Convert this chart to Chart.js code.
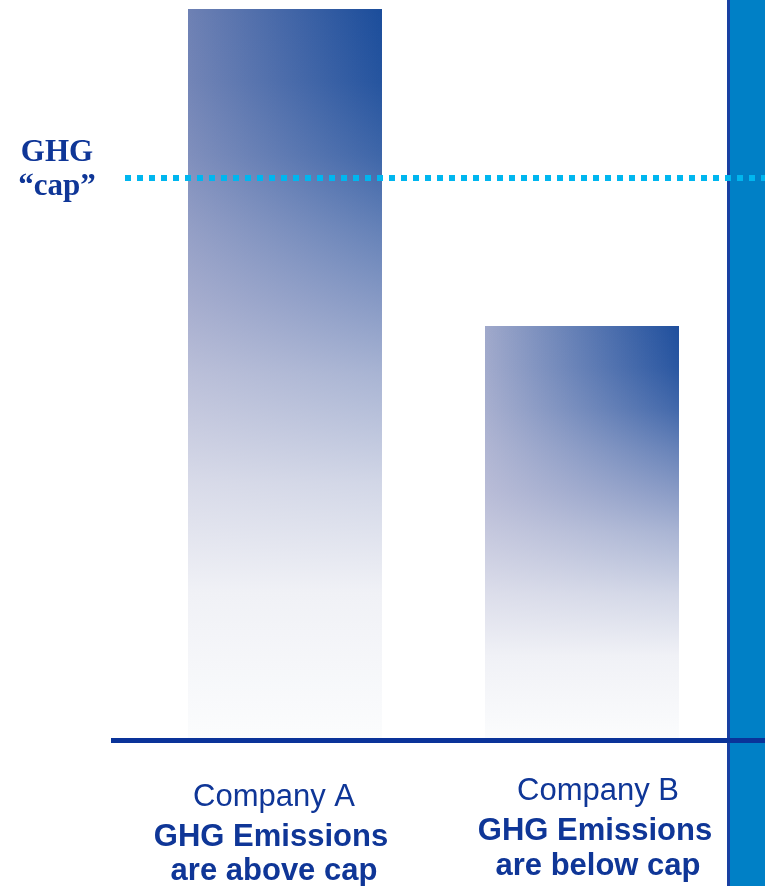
<!DOCTYPE html>
<html>
<head>
<meta charset="utf-8">
<script src="https://cdn.jsdelivr.net/npm/chart.js@4/dist/chart.umd.min.js"></script>
<style>
  html, body { margin: 0; padding: 0; background: #fff; }
  #wrap { width: 765px; height: 886px; position: relative; }
</style>
</head>
<body>
<div id="wrap"><canvas id="capChart" width="765" height="886"></canvas></div>
<script>
// GHG cap comparison - bars drawn with Chart.js

// Data
const companies = ['Company A', 'Company B'];
const emissions = [100, 56.5];
const capValue = 76.8;
const captionLine2 = ['GHG Emissions', 'GHG Emissions'];
const captionLine3 = ['are above cap', 'are below cap'];
const capLabel = ['GHG', '\u201Ccap\u201D'];

// Colors
const colors = {
  text: '#0F3697',
  axis: '#0A3399',
  cap: '#00B6EF',
  strip: '#0080C6',
  stripEdge: '#1840A2',
};

// top-edge colours of each bar (left -> right)
const barTops = [
  ['#6E81B4', '#1B4D9B'],
  ['#A0A9CB', '#1F4F9D'],
];
// lavender-grey wash that takes over further down the bar
const fadeStops = [
  [0.00, 'rgba(200,200,222,0)'],
  [0.10, 'rgba(200,200,222,0.06)'],
  [0.20, 'rgba(200,200,222,0.2)'],
  [0.30, 'rgba(200,200,222,0.42)'],
  [0.40, 'rgba(200,200,222,0.62)'],
  [0.50, 'rgba(208,209,227,0.78)'],
  [0.65, 'rgba(225,226,237,0.92)'],
  [0.80, 'rgba(240,241,246,1)'],
  [1.00, 'rgba(251,252,253,1)']
];

const sansFont = '"Liberation Sans", Arial, sans-serif';
const serifFont = '"Liberation Serif", "Times New Roman", serif';

// build a pattern for one bar: horizontal tint + wash downwards
function barPattern(chart, index) {
  const x = chart.scales.x, y = chart.scales.y;
  if (!x || !y || !chart.chartArea) return barTops[index][1];
  const w = 194;
  const left = Math.round(x.getPixelForValue(index) - w / 2);
  const top = Math.round(y.getPixelForValue(emissions[index]));
  const bottom = Math.round(y.getPixelForValue(0));
  const h = Math.max(1, bottom - top);

  const off = document.createElement('canvas');
  off.width = w;
  off.height = h;
  const c = off.getContext('2d');
  const hg = c.createLinearGradient(0, 0, w, 0);
  hg.addColorStop(0, barTops[index][0]);
  hg.addColorStop(1, barTops[index][1]);
  c.fillStyle = hg;
  c.fillRect(0, 0, w, h);
  const vg = c.createLinearGradient(0, 0, 0, h);
  fadeStops.forEach(s => vg.addColorStop(s[0], s[1]));
  c.fillStyle = vg;
  c.fillRect(0, 0, w, h);

  const pat = chart.ctx.createPattern(off, 'no-repeat');
  pat.setTransform(new DOMMatrix().translate(left, top));
  return pat;
}

// right strip, cap line, baseline and captions
const decorations = {
  id: 'decorations',
  beforeDatasetsDraw(chart) {
    const { ctx, chartArea } = chart;
    const r = Math.round(chartArea.right) - 1;
    ctx.save();
    ctx.fillStyle = colors.strip;
    ctx.fillRect(r, 0, chart.width - r, chart.height);
    ctx.fillStyle = colors.stripEdge;
    ctx.fillRect(r - 3, 0, 3, chart.height);
    ctx.restore();
  },
  afterDatasetsDraw(chart) {
    const { ctx } = chart;
    const y = chart.scales.y;
    ctx.save();
    // dotted cap line
    const yc = Math.round(y.getPixelForValue(capValue));
    ctx.strokeStyle = colors.cap;
    ctx.lineWidth = 6;
    ctx.setLineDash([6, 6]);
    ctx.beginPath();
    ctx.moveTo(125, yc);
    ctx.lineTo(chart.width, yc);
    ctx.stroke();
    ctx.setLineDash([]);
    // baseline
    const y0 = Math.round(y.getPixelForValue(0));
    ctx.fillStyle = colors.axis;
    ctx.fillRect(111, y0, chart.width - 111, 5);
    ctx.restore();
  },
  afterDraw(chart) {
    const { ctx } = chart;
    const x = chart.scales.x;
    const labelShift = [-11, 16];
    const lineY = [[806, 846, 880], [800, 840, 875]];
    ctx.save();
    ctx.fillStyle = colors.text;
    ctx.textAlign = 'center';
    ctx.textBaseline = 'alphabetic';
    companies.forEach((name, i) => {
      const cx = x.getPixelForValue(i) + labelShift[i];
      ctx.font = '31px ' + sansFont;
      ctx.fillText(name, cx, lineY[i][0]);
      ctx.font = 'bold 31px ' + sansFont;
      ctx.fillText(captionLine2[i], cx - 3, lineY[i][1]);
      ctx.fillText(captionLine3[i], cx, lineY[i][2]);
    });
    // cap label on the left
    ctx.font = 'bold 31px ' + serifFont;
    ctx.fillText(capLabel[0], 57, 161);
    ctx.fillText(capLabel[1], 57, 195);
    ctx.restore();
  }
};

function initCapChart() {
  const ctx = document.getElementById('capChart');
  if (!ctx) return;

  new Chart(ctx, {
    type: 'bar',
    data: {
      labels: companies,
      datasets: [{
        label: 'GHG Emissions',
        data: emissions,
        backgroundColor: function(context) {
          return barPattern(context.chart, context.dataIndex);
        },
        borderWidth: 0,
        barThickness: 194,
      }]
    },
    options: {
      responsive: false,
      animation: false,
      events: [],
      layout: {
        padding: { top: 9, left: 136.5, right: 34.5, bottom: 148 }
      },
      plugins: {
        legend: { display: false },
        tooltip: { enabled: false }
      },
      scales: {
        x: { display: false },
        y: { display: false, min: 0, max: 100 }
      }
    },
    plugins: [decorations]
  });
}

initCapChart();
</script>
</body>
</html>
